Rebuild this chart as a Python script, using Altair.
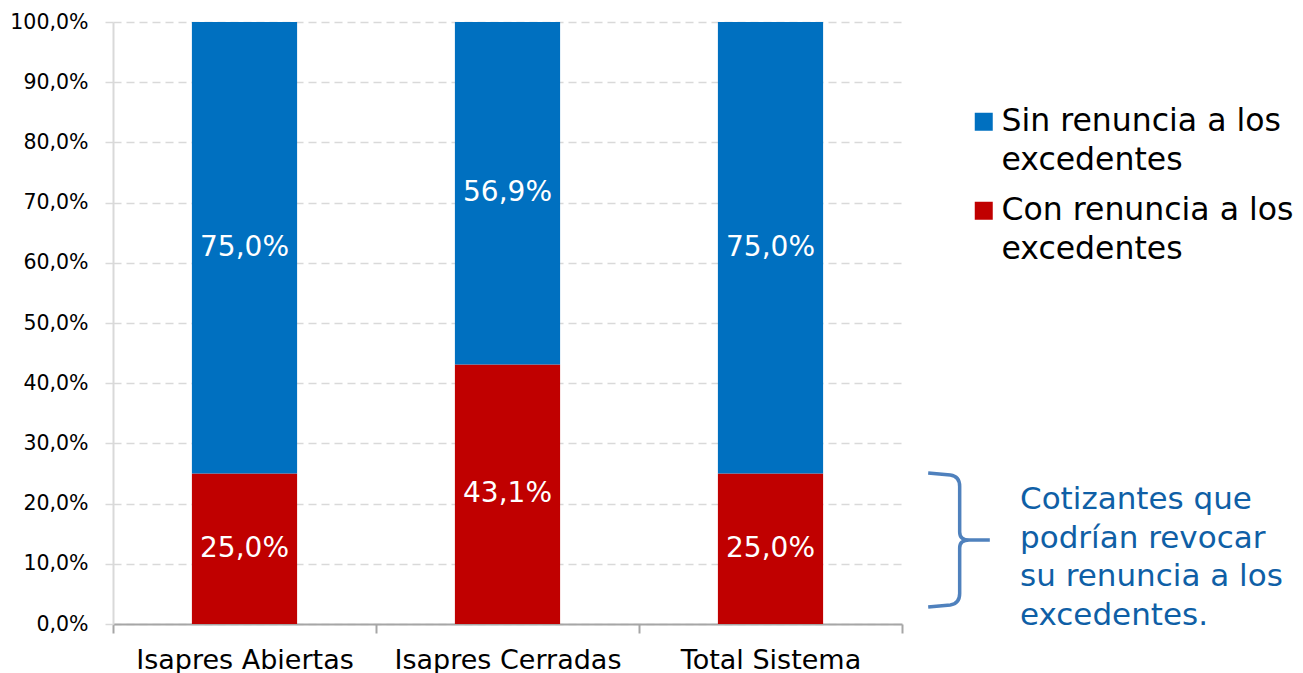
import altair as alt
import pandas as pd

categorias = ["Isapres Abiertas", "Isapres Cerradas", "Total Sistema"]
series = ["Sin renuncia a los excedentes", "Con renuncia a los excedentes"]
sin_renuncia = [0.75, 0.569, 0.75]
con_renuncia = [0.25, 0.431, 0.25]
colores = ["#0070c0", "#c00000"]
y_ticks = [0.0, 0.1, 0.2, 0.3, 0.4, 0.5, 0.6, 0.7, 0.8, 0.9, 1.0]
nota = ["Cotizantes que", "podrían revocar", "su renuncia a los", "excedentes."]

rows = []
for c, v in zip(categorias, con_renuncia):
    rows.append({"categoria": c, "serie": series[1], "valor": v, "orden": 0})
for c, v in zip(categorias, sin_renuncia):
    rows.append({"categoria": c, "serie": series[0], "valor": v, "orden": 1})
df = pd.DataFrame(rows)

FONT = "DejaVu Sans"
pct = "replace(format(datum.value, '.1%'), '.', ',')"

base = alt.Chart(df).transform_stack(
    stack="valor", groupby=["categoria"], as_=["y0", "y1"],
    sort=[alt.SortField("orden", order="ascending")]
).transform_calculate(
    mid="(datum.y0 + datum.y1) / 2",
    etiqueta="replace(format(datum.valor, '.1%'), '.', ',')"
)

x_enc = alt.X(
    "categoria:N", sort=categorias,
    scale=alt.Scale(paddingInner=0, paddingOuter=0),
    axis=alt.Axis(title=None, labelAngle=0, tickBand="extent", grid=False,
                  domainColor="#a6a6a6", domainWidth=2, tickColor="#a6a6a6",
                  tickWidth=2, tickSize=9, labelFontSize=27, labelFont=FONT,
                  labelColor="black", labelPadding=14, labelLimit=400),
)

bars = base.mark_bar(width=alt.RelativeBandSize(0.4)).encode(
    x=x_enc,
    y=alt.Y("y0:Q", scale=alt.Scale(domain=[0, 1]),
            axis=alt.Axis(title=None, values=y_ticks, labelExpr=pct,
                          labelFontSize=20.5, labelFont=FONT, labelColor="black",
                          labelPadding=17, tickSize=8, tickColor="#d9d9d9",
                          tickWidth=1.5, domainColor="#d9d9d9", domainWidth=2,
                          grid=True, gridColor="#d9d9d9", gridDash=[8, 5],
                          gridWidth=1.5)),
    y2="y1:Q",
    color=alt.Color("serie:N",
                    scale=alt.Scale(domain=series, range=colores),
                    legend=alt.Legend(
                        title=None, orient="none", legendX=855, legendY=84,
                        symbolType="square", symbolSize=324, symbolStrokeWidth=0,
                        labelFontSize=31.5, labelFont=FONT, labelColor="black",
                        labelOffset=2, labelLimit=500, padding=0, rowPadding=17,
                        labelExpr="[substring(datum.label, 0, lastindexof(datum.label, ' ')), substring(datum.label, lastindexof(datum.label, ' ') + 1)]")),
)

labels = base.mark_text(color="white", fontSize=28, font=FONT).encode(
    x=alt.X("categoria:N", sort=categorias),
    y="mid:Q",
    text="etiqueta:N",
)

brace_path = ("M -0.46 -1 L -0.13 -0.97 Q 0.01 -0.95 0.01 -0.8 L 0.01 -0.12 "
              "Q 0.01 0 0.15 0 L 0.46 0 M 0.15 0 Q 0.01 0 0.01 0.12 "
              "L 0.01 0.8 Q 0.01 0.95 -0.13 0.97 L -0.46 1")

brace = alt.Chart(pd.DataFrame({"k": [0]})).mark_point(
    shape=brace_path, size=17956, filled=False, strokeWidth=3.5,
    color="#4f81bd", opacity=1
).encode(x=alt.value(846), y=alt.value(518))

nota_chart = alt.Chart(pd.DataFrame({"k": [0]})).mark_text(
    text=nota, align="left", baseline="top", fontSize=31, lineHeight=38.5,
    font=FONT, color="#0f5fa6"
).encode(x=alt.value(907), y=alt.value(463))

chart = alt.layer(bars, labels, brace, nota_chart).properties(
    width=789, height=602, autosize="none",
    padding={"left": 105, "top": 14, "right": 393, "bottom": 49},
    background="white",
).configure(
    style={"guide-label": {"lineHeight": 39}}
).configure_view(stroke=None)

chart.save("out.html", embed_options={"renderer": "svg", "actions": False})
